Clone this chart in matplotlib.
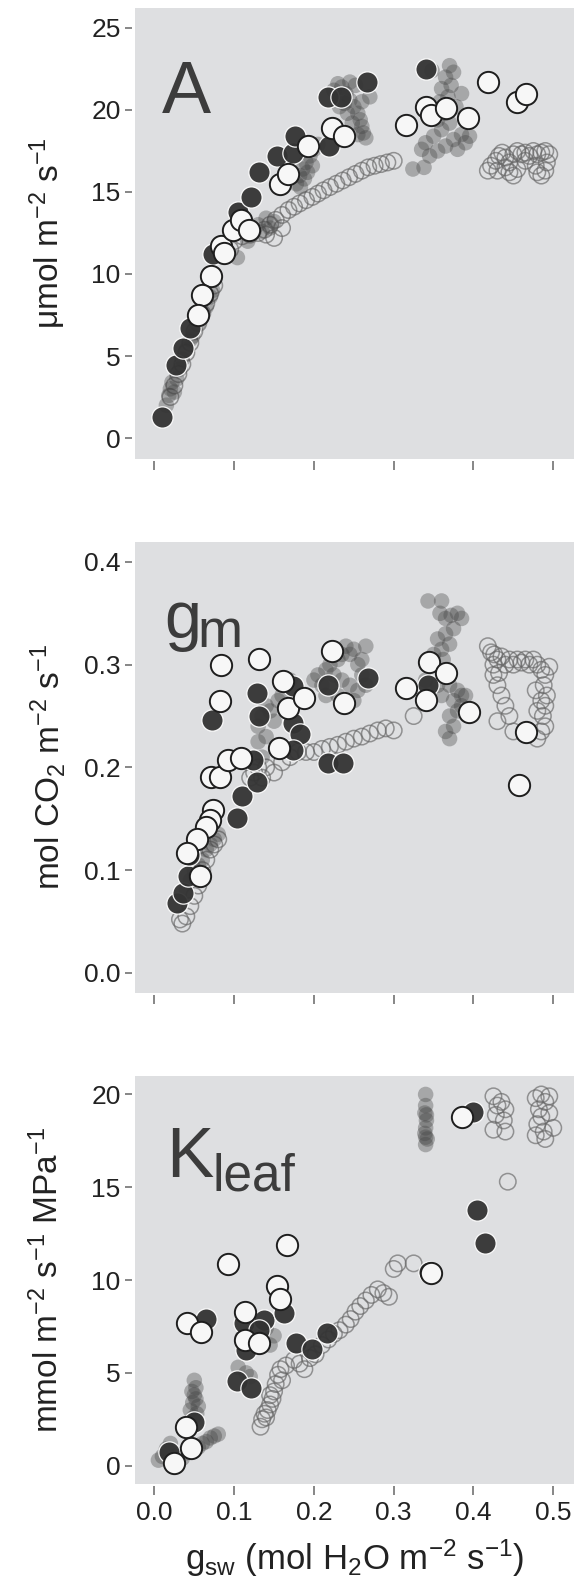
import matplotlib
matplotlib.use('Agg')
import matplotlib.pyplot as plt

plt.rcParams['font.family'] = ['Liberation Sans', 'DejaVu Sans']
plt.rcParams['mathtext.default'] = 'regular'

# ---- panel A : photosynthesis ----
a_dark_x = [0.010, 0.027, 0.036, 0.044, 0.074, 0.105, 0.121, 0.131, 0.154, 0.174, 0.176, 0.219, 0.218, 0.234, 0.266, 0.341]
a_dark_y = [1.3, 4.45, 5.5, 6.7, 11.2, 13.8, 14.7, 16.2, 17.2, 17.4, 18.4, 17.8, 20.8, 20.8, 21.7, 22.5]
a_white_x = [0.071, 0.060, 0.054, 0.083, 0.087, 0.099, 0.108, 0.119, 0.158, 0.168, 0.193, 0.223, 0.238,
             0.315, 0.340, 0.347, 0.365, 0.393, 0.418, 0.455, 0.466]
a_white_y = [9.9, 8.7, 7.5, 11.7, 11.3, 12.7, 13.3, 12.7, 15.5, 16.1, 17.8, 18.9, 18.4,
             19.1, 20.2, 19.7, 20.1, 19.5, 21.7, 20.5, 21.0]
a_gray_x = [0.015, 0.018, 0.020, 0.022, 0.025, 0.028, 0.032, 0.035, 0.040, 0.045, 0.050, 0.055, 0.060, 0.065,
            0.070, 0.073, 0.048, 0.058, 0.104, 0.117, 0.125,
            0.130, 0.135, 0.140, 0.145, 0.150,
            0.178, 0.182, 0.186, 0.190, 0.195, 0.200, 0.205, 0.183, 0.192, 0.198, 0.188,
            0.225, 0.230, 0.235, 0.240, 0.245, 0.250, 0.255, 0.258, 0.260, 0.262, 0.265, 0.255, 0.248, 0.242,
            0.238, 0.232, 0.270, 0.252, 0.260, 0.245,
            0.370, 0.375, 0.365, 0.372, 0.360, 0.368, 0.358, 0.378, 0.365, 0.355, 0.370, 0.360, 0.350, 0.340,
            0.335, 0.345, 0.355, 0.365, 0.375, 0.385, 0.380, 0.390, 0.395, 0.348, 0.385, 0.324, 0.338]
a_gray_y = [2.0, 2.6, 3.0, 3.4, 2.8, 3.6, 4.2, 4.8, 5.4, 6.0, 6.6, 7.0, 7.4, 8.0,
            8.6, 9.0, 6.2, 7.8, 11.0, 12.0, 12.6,
            13.0, 12.6, 13.4, 12.8, 13.2,
            15.5, 16.0, 16.4, 16.8, 17.2, 17.6, 17.9, 15.3, 16.2, 16.6, 15.8,
            21.2, 21.6, 21.4, 21.0, 20.6, 20.2, 19.8, 19.4, 19.0, 18.6, 18.3, 18.5, 19.2, 19.8,
            20.4, 20.2, 20.8, 21.5, 20.5, 21.7,
            22.7, 22.3, 22.0, 21.5, 21.3, 20.8, 20.5, 20.2, 19.8, 19.4, 19.2, 18.8, 18.4, 18.0,
            17.6, 17.2, 17.5, 17.8, 18.2, 18.5, 17.6, 18.0, 18.4, 22.4, 21.0, 16.4, 16.5]
a_open_x = [0.055, 0.060, 0.065, 0.070, 0.075, 0.050, 0.045, 0.040, 0.035, 0.030, 0.025, 0.020,
            0.095, 0.100, 0.110, 0.120, 0.130,
            0.138, 0.145, 0.152, 0.160, 0.168, 0.175, 0.182, 0.190, 0.198, 0.205, 0.212, 0.220, 0.228,
            0.236, 0.244, 0.252, 0.260, 0.268, 0.276, 0.284, 0.292, 0.300, 0.140, 0.150, 0.160,
            0.418, 0.422, 0.428, 0.432, 0.436, 0.440, 0.445, 0.450, 0.455, 0.460, 0.465, 0.470, 0.475,
            0.480, 0.485, 0.490, 0.495, 0.440, 0.445, 0.450, 0.455, 0.480, 0.485, 0.490, 0.478, 0.492,
            0.430, 0.465]
a_open_y = [7.0, 7.6, 8.2, 8.8, 9.3, 6.5, 5.8, 5.2, 4.5, 3.9, 3.2, 2.5,
            11.5, 12.0, 12.3, 12.4, 12.5,
            12.7, 13.0, 13.3, 13.6, 13.9, 14.1, 14.3, 14.5, 14.7, 14.9, 15.1, 15.3, 15.5,
            15.7, 15.9, 16.1, 16.3, 16.5, 16.6, 16.7, 16.8, 16.9, 12.4, 12.2, 12.8,
            16.3, 16.6, 16.9, 17.2, 17.4, 17.1, 16.8, 17.3, 17.5, 17.3, 17.4, 17.2, 17.5,
            17.3, 17.4, 17.5, 17.3, 16.5, 16.2, 16.0, 16.4, 16.2, 16.0, 16.3, 16.6, 16.8,
            16.3, 16.9]

# ---- panel gm ----
g_dark_x = [0.028, 0.036, 0.042, 0.043, 0.072, 0.104, 0.110, 0.128, 0.124, 0.128, 0.131, 0.174, 0.174,
            0.183, 0.174, 0.218, 0.217, 0.236, 0.268, 0.343]
g_dark_y = [0.068, 0.078, 0.094, 0.115, 0.246, 0.151, 0.172, 0.186, 0.207, 0.272, 0.250, 0.279, 0.243,
            0.233, 0.217, 0.280, 0.204, 0.204, 0.287, 0.280]
g_white_x = [0.084, 0.082, 0.131, 0.071, 0.082, 0.092, 0.108, 0.074, 0.070, 0.065, 0.053, 0.041, 0.057,
             0.161, 0.168, 0.188, 0.156, 0.223, 0.238, 0.315, 0.344, 0.340, 0.365, 0.394, 0.466, 0.457]
g_white_y = [0.300, 0.265, 0.306, 0.191, 0.191, 0.207, 0.209, 0.159, 0.149, 0.142, 0.130, 0.117, 0.094,
             0.284, 0.258, 0.268, 0.219, 0.313, 0.263, 0.277, 0.303, 0.266, 0.292, 0.254, 0.234, 0.183]
g_gray_x = [0.200, 0.205, 0.210, 0.215, 0.220, 0.225, 0.230, 0.235, 0.240, 0.245, 0.250, 0.255, 0.260,
            0.265, 0.255, 0.245, 0.250, 0.240, 0.230, 0.235, 0.260, 0.265, 0.215,
            0.130, 0.135, 0.140, 0.145, 0.150, 0.130, 0.140, 0.155, 0.160, 0.165, 0.170, 0.135,
            0.343, 0.360, 0.358, 0.365, 0.372, 0.380, 0.385, 0.375, 0.365, 0.370, 0.360, 0.355, 0.350,
            0.345, 0.362, 0.340, 0.355, 0.370, 0.380, 0.385, 0.375, 0.380, 0.370, 0.375, 0.365, 0.370,
            0.385, 0.390, 0.360,
            0.040, 0.045, 0.050, 0.055, 0.060, 0.065, 0.070, 0.075, 0.080, 0.058]
g_gray_y = [0.285, 0.290, 0.280, 0.295, 0.300, 0.290, 0.305, 0.310, 0.318, 0.310, 0.315, 0.300, 0.290,
            0.280, 0.275, 0.280, 0.265, 0.260, 0.270, 0.285, 0.305, 0.318, 0.270,
            0.240, 0.250, 0.260, 0.255, 0.245, 0.225, 0.230, 0.265, 0.270, 0.280, 0.285, 0.210,
            0.362, 0.362, 0.350, 0.345, 0.348, 0.350, 0.345, 0.335, 0.330, 0.320, 0.315, 0.325, 0.310,
            0.300, 0.305, 0.285, 0.280, 0.280, 0.275, 0.270, 0.265, 0.255, 0.250, 0.240, 0.235, 0.228,
            0.260, 0.270, 0.270,
            0.080, 0.090, 0.100, 0.105, 0.110, 0.120, 0.125, 0.130, 0.135, 0.095]
g_open_x = [0.032, 0.035, 0.040, 0.045, 0.050, 0.055, 0.060, 0.065, 0.070, 0.075, 0.080,
            0.120, 0.125, 0.130, 0.135, 0.140,
            0.150, 0.160, 0.170, 0.180, 0.190, 0.200, 0.210, 0.220, 0.230, 0.240, 0.250, 0.260, 0.270,
            0.280, 0.290, 0.300, 0.325,
            0.418, 0.422, 0.426, 0.430, 0.435, 0.440, 0.445, 0.450, 0.455, 0.460, 0.465, 0.470, 0.475,
            0.480, 0.485, 0.490, 0.495, 0.488, 0.492, 0.485, 0.490, 0.487, 0.490, 0.485, 0.480, 0.425,
            0.430, 0.435, 0.440, 0.430, 0.445, 0.450, 0.425, 0.432, 0.478, 0.480]
g_open_y = [0.052, 0.048, 0.055, 0.065, 0.075, 0.085, 0.100, 0.110, 0.120, 0.125, 0.130,
            0.190, 0.195, 0.200, 0.190, 0.200,
            0.195, 0.205, 0.210, 0.215, 0.215, 0.215, 0.218, 0.220, 0.222, 0.225, 0.228, 0.230, 0.233,
            0.236, 0.238, 0.236, 0.250,
            0.318, 0.312, 0.310, 0.305, 0.308, 0.300, 0.305, 0.300, 0.305, 0.302, 0.305, 0.300, 0.305,
            0.300, 0.295, 0.290, 0.298, 0.280, 0.270, 0.265, 0.260, 0.250, 0.240, 0.235, 0.228, 0.290,
            0.280, 0.270, 0.260, 0.245, 0.250, 0.235, 0.300, 0.292, 0.275, 0.255]

# ---- panel Kleaf ----
k_dark_x = [0.018, 0.050, 0.065, 0.103, 0.121, 0.112, 0.115, 0.137, 0.131, 0.163, 0.177, 0.198, 0.216,
            0.344, 0.399, 0.404, 0.414]
k_dark_y = [0.72, 2.38, 7.9, 4.57, 4.18, 7.67, 6.24, 7.85, 7.3, 8.2, 6.6, 6.3, 7.13,
            10.45, 19.05, 13.76, 12.0]
k_white_x = [0.041, 0.059, 0.092, 0.166, 0.154, 0.158, 0.114, 0.114, 0.131, 0.039, 0.025, 0.046, 0.386, 0.347]
k_white_y = [7.67, 7.22, 10.86, 11.88, 9.68, 8.96, 8.3, 6.77, 6.6, 2.11, 0.14, 0.95, 18.78, 10.4]
k_gray_x = [0.045, 0.048, 0.050, 0.052, 0.050, 0.055, 0.053, 0.047, 0.052, 0.049,
            0.005, 0.010, 0.015, 0.020, 0.025, 0.030, 0.040, 0.050, 0.055, 0.060, 0.065, 0.070, 0.075,
            0.080, 0.045, 0.035,
            0.105, 0.115, 0.120, 0.130, 0.140, 0.145, 0.150, 0.110,
            0.340, 0.340, 0.339, 0.341, 0.340, 0.339, 0.342, 0.340, 0.341, 0.340]
k_gray_y = [3.0, 3.4, 3.8, 4.2, 4.6, 3.2, 2.8, 4.0, 3.6, 2.6,
            0.3, 0.5, 0.9, 1.2, 0.5, 0.6, 0.7, 0.9, 1.0, 1.2, 1.3, 1.5, 1.6,
            1.7, 0.8, 0.4,
            5.3, 5.0, 4.8, 6.6, 7.4, 6.5, 7.0, 6.9,
            20.0, 19.4, 19.0, 18.6, 18.2, 17.9, 17.6, 17.3, 18.9, 17.7]
k_open_x = [0.133, 0.135, 0.138, 0.142, 0.145, 0.148, 0.150, 0.152, 0.155, 0.158, 0.160, 0.140, 0.145,
            0.165, 0.175, 0.182, 0.188, 0.195, 0.202, 0.210, 0.218, 0.225, 0.232, 0.240, 0.246, 0.252,
            0.258, 0.265, 0.272, 0.280, 0.287, 0.294, 0.300, 0.305, 0.325, 0.350,
            0.425, 0.430, 0.435, 0.440, 0.428, 0.438, 0.425, 0.440, 0.443, 0.478, 0.485, 0.490, 0.482,
            0.495, 0.480, 0.488, 0.478, 0.490, 0.500, 0.495, 0.485]
k_open_y = [2.1, 2.5, 2.8, 3.0, 3.3, 3.6, 4.0, 4.4, 4.9, 5.2, 4.6, 2.6, 3.8,
            5.4, 5.7, 5.5, 5.2, 5.8, 6.0, 6.5, 6.8, 7.1, 7.3, 7.6, 7.9, 8.3,
            8.6, 8.9, 9.2, 9.5, 9.3, 9.1, 10.6, 10.9, 10.9, 10.35,
            19.9, 19.4, 19.6, 19.2, 18.9, 18.6, 18.1, 18.0, 15.3, 19.8, 20.0, 19.6, 19.2,
            19.0, 18.4, 18.0, 17.8, 17.6, 18.2, 19.9, 18.8]

x_ticks = [0.0, 0.1, 0.2, 0.3, 0.4, 0.5]
x_ticklabels = ['0.0', '0.1', '0.2', '0.3', '0.4', '0.5']

fig = plt.figure(figsize=(5.74, 15.91), dpi=100)
ax1 = fig.add_axes([0.2357, 0.7115, 0.7643, 0.2835])
ax2 = fig.add_axes([0.2357, 0.3759, 0.7643, 0.2835])
ax3 = fig.add_axes([0.2357, 0.06725, 0.7643, 0.2564])

bg = '#dedfe1'
txt = '#3c3c3c'

panels = [
    (ax1, a_open_x, a_open_y, a_gray_x, a_gray_y, a_dark_x, a_dark_y, a_white_x, a_white_y),
    (ax2, g_open_x, g_open_y, g_gray_x, g_gray_y, g_dark_x, g_dark_y, g_white_x, g_white_y),
    (ax3, k_open_x, k_open_y, k_gray_x, k_gray_y, k_dark_x, k_dark_y, k_white_x, k_white_y),
]

for ax, ox, oy, gx, gy, dx, dy, wx, wy in panels:
    ax.set_facecolor(bg)
    ax.scatter(ox, oy, s=140, facecolors='none', edgecolors='#666666', linewidths=1.1, alpha=0.65, zorder=2)
    ax.scatter(gx, gy, s=125, c='#444444', edgecolors='none', alpha=0.36, zorder=3)
    ax.scatter(dx, dy, s=235, c='#333333', edgecolors='white', linewidths=0.9, alpha=0.95, zorder=4)
    ax.scatter(wx, wy, s=235, c='#f7f7f7', edgecolors='#1e1e1e', linewidths=1.4, zorder=5)
    ax.set_xlim(-0.024, 0.526)
    ax.set_xticks(x_ticks)
    for sp in ax.spines.values():
        sp.set_visible(False)
    ax.spines['left'].set_position(('outward', 2.5))
    ax.spines['bottom'].set_position(('outward', 1.5))
    ax.tick_params(axis='y', length=5, width=1.1, color='#666666', labelsize=19, labelcolor='#222222', pad=3)
    ax.tick_params(axis='x', length=6.5, width=1.1, color='#666666', labelsize=19, labelcolor='#222222', pad=4)

ax1.set_ylim(-1.28, 26.22)
ax1.set_yticks([0, 5, 10, 15, 20, 25])
ax1.set_xticklabels([])
ax2.set_ylim(-0.0195, 0.4195)
ax2.set_yticks([0.0, 0.1, 0.2, 0.3, 0.4])
ax2.set_yticklabels(['0.0', '0.1', '0.2', '0.3', '0.4'])
ax2.set_xticklabels([])
ax3.set_ylim(-0.985, 20.99)
ax3.set_yticks([0, 5, 10, 15, 20])
ax3.set_xticklabels(x_ticklabels)

# axis labels
ax1.set_ylabel(r'$\mu$mol m$^{-2}$ s$^{-1}$', fontsize=24)
ax2.set_ylabel(r'mol CO$_2$ m$^{-2}$ s$^{-1}$', fontsize=24)
ax3.set_ylabel(r'mmol m$^{-2}$ s$^{-1}$ MPa$^{-1}$', fontsize=24)
for ax in (ax1, ax2, ax3):
    ax.yaxis.set_label_coords(-0.199, 0.5)
    ax.yaxis.label.set_va('center')
    ax.yaxis.label.set_color('#222222')
ax3.set_xlabel(r'g$_{sw}$ (mol H$_2$O m$^{-2}$ s$^{-1}$)', fontsize=25, color='#222222', labelpad=9)

# panel letters
ax1.text(0.0615, 0.7665, 'A', transform=ax1.transAxes, fontsize=53, color=txt)
ax2.text(0.067, 0.7865, 'g', transform=ax2.transAxes, fontsize=48, color=txt)
ax2.text(0.1406, 0.7665, 'm', transform=ax2.transAxes, fontsize=39, color=txt)
ax3.text(0.0707, 0.752, 'K', transform=ax3.transAxes, fontsize=51, color=txt)
ax3.text(0.1755, 0.719, 'leaf', transform=ax3.transAxes, fontsize=37, color=txt)

fig.savefig('out.png', dpi=100)
